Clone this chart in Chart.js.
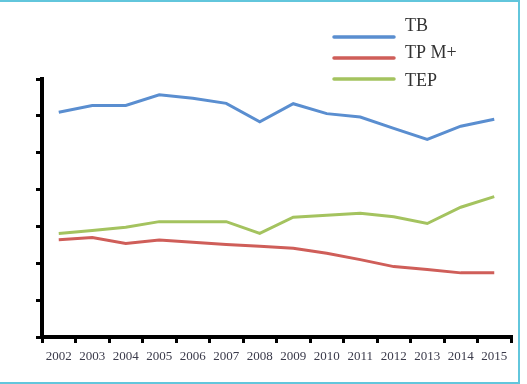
<!DOCTYPE html>
<html>
<head>
<meta charset="utf-8">
<script src="https://cdn.jsdelivr.net/npm/chart.js@4/dist/chart.umd.min.js"></script>
<style>
html,body{margin:0;padding:0;background:#fff;}
#wrap{position:absolute;left:0;top:0;width:527px;height:384px;}
#frame{position:absolute;left:-2px;top:0;width:520px;height:380px;border:2px solid #62c6dc;border-left:none;box-sizing:content-box;pointer-events:none;}
canvas{position:absolute;left:0;top:0;}
</style>
</head>
<body>
<div id="wrap">
<canvas id="c" width="527" height="384"></canvas>
<div id="frame"></div>
</div>
<script>
const years = ['2002','2003','2004','2005','2006','2007','2008','2009','2010','2011','2012','2013','2014','2015'];
const tb   = [6.10, 6.28, 6.28, 6.57, 6.48, 6.34, 5.84, 6.33, 6.06, 5.97, 5.66, 5.36, 5.72, 5.91];
const tpm  = [2.64, 2.70, 2.54, 2.63, 2.57, 2.51, 2.46, 2.41, 2.27, 2.10, 1.91, 1.83, 1.74, 1.74];
const tep  = [2.81, 2.89, 2.98, 3.13, 3.13, 3.13, 2.81, 3.25, 3.30, 3.36, 3.26, 3.08, 3.52, 3.81];
const seriesNames = ['TB', 'TP M+', 'TEP'];
const colors = ['#5a8ed0', '#cf5e59', '#a4c35f'];

const legendPlugin = {
  id: 'customLegend',
  afterDraw(chart) {
    const ctx = chart.ctx;
    const lineY = [37, 58, 79];
    const textY = [26, 53, 81];
    ctx.save();
    chart.data.datasets.forEach((ds, i) => {
      ctx.strokeStyle = ds.borderColor;
      ctx.lineWidth = 3.5;
      ctx.lineCap = 'round';
      ctx.beginPath();
      ctx.moveTo(334, lineY[i]);
      ctx.lineTo(394, lineY[i]);
      ctx.stroke();
      ctx.fillStyle = '#333';
      ctx.font = '18px "Liberation Serif", serif';
      ctx.textBaseline = 'middle';
      ctx.textAlign = 'left';
      ctx.fillText(ds.label, 405, textY[i]);
    });
    ctx.restore();
  }
};

new Chart(document.getElementById('c'), {
  type: 'line',
  data: {
    labels: years,
    datasets: [
      {label: seriesNames[0], data: tb, borderColor: colors[0], backgroundColor: colors[0]},
      {label: seriesNames[1], data: tpm, borderColor: colors[1], backgroundColor: colors[1]},
      {label: seriesNames[2], data: tep, borderColor: colors[2], backgroundColor: colors[2]}
    ]
  },
  options: {
    responsive: false,
    animation: false,
    devicePixelRatio: 1,
    elements: {
      point: {radius: 0},
      line: {borderWidth: 3, tension: 0}
    },
    layout: {padding: {left: 1, top: 79, right: 16, bottom: 0}},
    plugins: {legend: {display: false}, tooltip: {enabled: false}},
    scales: {
      x: {
        offset: true,
        grid: {offset: true, drawOnChartArea: false, drawTicks: true, tickLength: 6, color: '#000', lineWidth: 3},
        border: {display: true, color: '#000', width: 4},
        ticks: {color: '#3a3a4a', padding: 6, maxRotation: 0, autoSkip: false, font: {family: '"Liberation Serif", serif', size: 13}},
        afterFit(s) { s.height = 47; }
      },
      y: {
        min: 0, max: 7,
        ticks: {stepSize: 1, display: false},
        grid: {drawOnChartArea: false, drawTicks: true, tickLength: 6, color: '#000', lineWidth: 3},
        border: {display: true, color: '#000', width: 4},
        afterFit(s) { s.width = 41; }
      }
    }
  },
  plugins: [legendPlugin]
});
</script>
</body>
</html>
